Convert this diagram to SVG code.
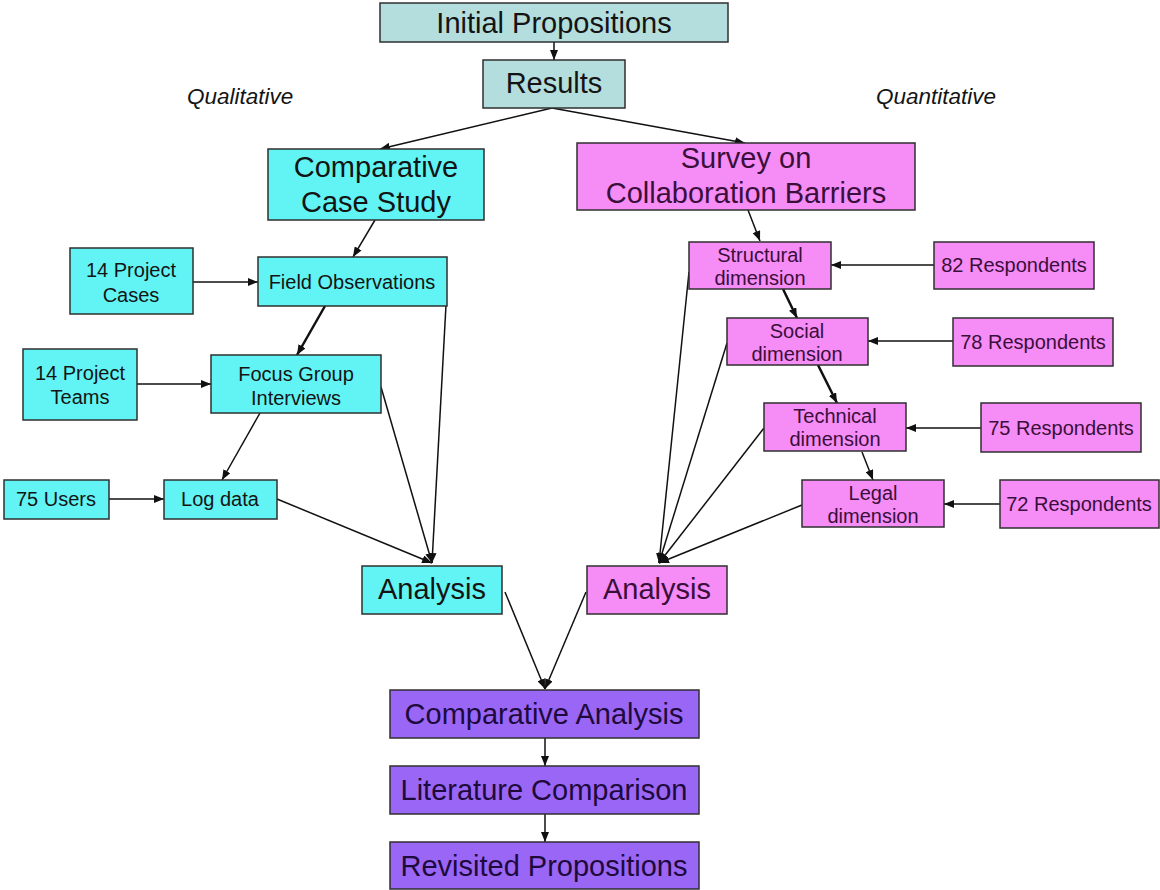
<svg xmlns="http://www.w3.org/2000/svg" width="1160" height="890" viewBox="0 0 1160 890">
  <defs>
    <marker id="arrow" viewBox="0 0 10 8" refX="10" refY="4" markerWidth="10" markerHeight="8" markerUnits="userSpaceOnUse" orient="auto">
      <path d="M0,0 L10,4 L0,8 Z" fill="#111"/>
    </marker>
    <style>
      .node rect { stroke: #2f2f2f; stroke-width: 1.5; }
      .teal { fill: #b4dede; }
      .cyan { fill: #62f4f4; }
      .pink { fill: #f68cf6; }
      .purple { fill: #9a66f5; }
      text { font-family: "Liberation Sans", Arial, sans-serif; text-anchor: middle; }
      .big { font-size: 29px; }
      .small { font-size: 20px; }
      .tc { fill: #141414; }
      .tp { fill: #3b0f3b; }
      .tv { fill: #1e0a3c; }
      .side { font-size: 22.5px; font-style: italic; fill: #141414; text-anchor: start; }
      .conn line { stroke: #111; stroke-width: 1.5; fill: none; }
      .conn .thick { stroke-width: 2.5; }
      .conn .arr { marker-end: url(#arrow); }
    </style>
  </defs>
  <rect x="0" y="0" width="1160" height="890" fill="#fff"/>

  <!-- side headings -->
  <text class="side" x="187" y="104">Qualitative</text>
  <text class="side" x="876" y="104">Quantitative</text>

  <!-- connectors -->
  <g id="connectors" class="conn">
    <line class="arr" x1="554" y1="42" x2="554" y2="60"/>
    <line class="arr" x1="552" y1="108" x2="380" y2="149"/>
    <line class="arr" x1="552" y1="108" x2="745" y2="143"/>

    <!-- qualitative branch -->
    <line class="arr" x1="375" y1="220" x2="353" y2="257"/>
    <line class="arr" x1="193" y1="282" x2="258" y2="282"/>
    <line class="arr thick" x1="325" y1="306" x2="297" y2="355"/>
    <line class="arr" x1="137" y1="384" x2="211" y2="384"/>
    <line class="arr" x1="260" y1="413" x2="222" y2="480"/>
    <line class="arr" x1="109" y1="499" x2="164" y2="499"/>
    <line class="arr" x1="446" y1="305" x2="432" y2="563"/>
    <line class="arr" x1="381" y1="387" x2="432" y2="563"/>
    <line class="arr" x1="277" y1="499" x2="432" y2="563"/>

    <!-- quantitative branch -->
    <line class="arr" x1="748" y1="210" x2="760" y2="241"/>
    <line class="arr thick" x1="783" y1="289" x2="797" y2="318"/>
    <line class="arr thick" x1="818" y1="365" x2="837" y2="403"/>
    <line class="arr" x1="862" y1="452" x2="873" y2="480"/>
    <line class="arr" x1="934" y1="265" x2="831" y2="265"/>
    <line class="arr" x1="953" y1="341" x2="868" y2="341"/>
    <line class="arr" x1="981" y1="428" x2="906" y2="428"/>
    <line class="arr" x1="1000" y1="504" x2="944" y2="504"/>
    <line class="arr" x1="689" y1="272" x2="659" y2="563"/>
    <line class="arr" x1="727" y1="343" x2="659" y2="563"/>
    <line class="arr" x1="764" y1="428" x2="659" y2="563"/>
    <line class="arr" x1="802" y1="505" x2="659" y2="563"/>

    <!-- synthesis -->
    <line class="arr" x1="505" y1="592" x2="545" y2="689"/>
    <line class="arr" x1="586" y1="592" x2="545" y2="689"/>
    <line class="arr" x1="545" y1="738" x2="545" y2="766"/>
    <line class="arr" x1="545" y1="814" x2="545" y2="842"/>
  </g>

  <!-- nodes -->
  <g id="initial-propositions" class="node">
    <rect class="teal" x="380" y="3" width="348" height="39"/>
    <text class="big tc" x="554" y="33">Initial Propositions</text>
  </g>
  <g id="results" class="node">
    <rect class="teal" x="483" y="60" width="142" height="48"/>
    <text class="big tc" x="554" y="93">Results</text>
  </g>

  <g id="case-study" class="node">
    <rect class="cyan" x="268" y="149" width="216" height="71"/>
    <text class="big tc" x="376" y="177">Comparative</text>
    <text class="big tc" x="376" y="212">Case Study</text>
  </g>
  <g id="project-cases" class="node">
    <rect class="cyan" x="70" y="248" width="123" height="66"/>
    <text class="small tc" x="131" y="277">14 Project</text>
    <text class="small tc" x="131" y="302">Cases</text>
  </g>
  <g id="field-observations" class="node">
    <rect class="cyan" x="258" y="257" width="189" height="49"/>
    <text class="small tc" x="352" y="289">Field Observations</text>
  </g>
  <g id="project-teams" class="node">
    <rect class="cyan" x="23" y="349" width="114" height="71"/>
    <text class="small tc" x="80" y="380">14 Project</text>
    <text class="small tc" x="80" y="404">Teams</text>
  </g>
  <g id="focus-group" class="node">
    <rect class="cyan" x="211" y="355" width="170" height="58"/>
    <text class="small tc" x="296" y="381">Focus Group</text>
    <text class="small tc" x="296" y="405">Interviews</text>
  </g>
  <g id="users" class="node">
    <rect class="cyan" x="4" y="480" width="105" height="39"/>
    <text class="small tc" x="56" y="506">75 Users</text>
  </g>
  <g id="log-data" class="node">
    <rect class="cyan" x="164" y="480" width="113" height="39"/>
    <text class="small tc" x="220" y="506">Log data</text>
  </g>
  <g id="analysis-qual" class="node">
    <rect class="cyan" x="362" y="566" width="140" height="48"/>
    <text class="big tc" x="432" y="599">Analysis</text>
  </g>

  <g id="survey" class="node">
    <rect class="pink" x="577" y="143" width="338" height="67"/>
    <text class="big tp" x="746" y="168">Survey on</text>
    <text class="big tp" x="746" y="203">Collaboration Barriers</text>
  </g>
  <g id="structural" class="node">
    <rect class="pink" x="689" y="242" width="142" height="47"/>
    <text class="small tp" x="760" y="262">Structural</text>
    <text class="small tp" x="760" y="285">dimension</text>
  </g>
  <g id="resp-82" class="node">
    <rect class="pink" x="934" y="242" width="160" height="47"/>
    <text class="small tp" x="1014" y="272">82 Respondents</text>
  </g>
  <g id="social" class="node">
    <rect class="pink" x="727" y="318" width="141" height="47"/>
    <text class="small tp" x="797" y="338">Social</text>
    <text class="small tp" x="797" y="361">dimension</text>
  </g>
  <g id="resp-78" class="node">
    <rect class="pink" x="953" y="318" width="160" height="48"/>
    <text class="small tp" x="1033" y="349">78 Respondents</text>
  </g>
  <g id="technical" class="node">
    <rect class="pink" x="764" y="403" width="142" height="48"/>
    <text class="small tp" x="835" y="423">Technical</text>
    <text class="small tp" x="835" y="446">dimension</text>
  </g>
  <g id="resp-75" class="node">
    <rect class="pink" x="981" y="403" width="160" height="49"/>
    <text class="small tp" x="1061" y="435">75 Respondents</text>
  </g>
  <g id="legal" class="node">
    <rect class="pink" x="802" y="480" width="142" height="47"/>
    <text class="small tp" x="873" y="500">Legal</text>
    <text class="small tp" x="873" y="523">dimension</text>
  </g>
  <g id="resp-72" class="node">
    <rect class="pink" x="1000" y="480" width="159" height="48"/>
    <text class="small tp" x="1079" y="511">72 Respondents</text>
  </g>
  <g id="analysis-quant" class="node">
    <rect class="pink" x="587" y="566" width="140" height="48"/>
    <text class="big tp" x="657" y="599">Analysis</text>
  </g>

  <g id="comparative-analysis" class="node">
    <rect class="purple" x="390" y="690" width="309" height="48"/>
    <text class="big tv" x="544" y="724">Comparative Analysis</text>
  </g>
  <g id="literature-comparison" class="node">
    <rect class="purple" x="390" y="766" width="309" height="48"/>
    <text class="big tv" x="544" y="800">Literature Comparison</text>
  </g>
  <g id="revisited-propositions" class="node">
    <rect class="purple" x="390" y="842" width="309" height="47"/>
    <text class="big tv" x="544" y="876">Revisited Propositions</text>
  </g>
</svg>
